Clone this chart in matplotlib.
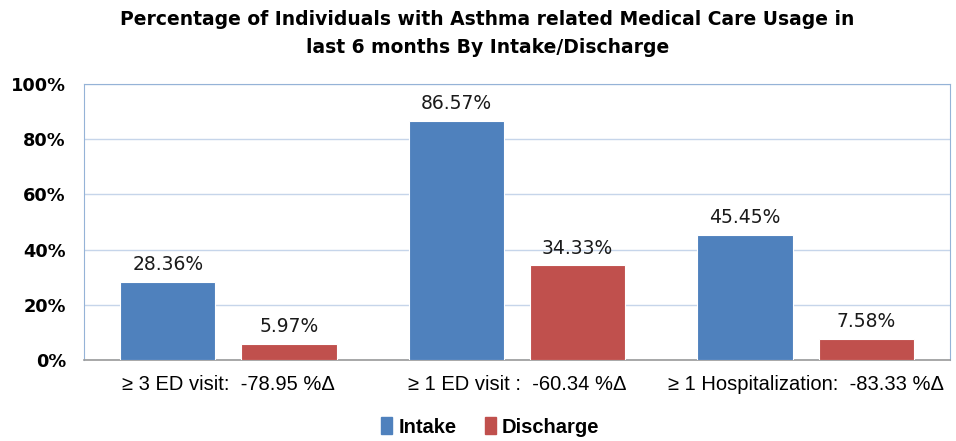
import numpy as np
import matplotlib.pyplot as plt
from matplotlib.patches import Patch
from matplotlib import font_manager

categories = [
    "\u2265 3 ED visit:  -78.95 %\u0394",
    "\u2265 1 ED visit :  -60.34 %\u0394",
    "\u2265 1 Hospitalization:  -83.33 %\u0394",
]
intake = [28.36, 86.57, 45.45]
discharge = [5.97, 34.33, 7.58]
yticks = [0, 20, 40, 60, 80, 100]

BLUE = "#4F81BD"
RED = "#C0504D"

names = {f.name for f in font_manager.fontManager.ttflist}
NARROW = "Liberation Sans Narrow" if "Liberation Sans Narrow" in names else "Liberation Sans"

fig = plt.figure(figsize=(9.56, 4.41), dpi=100)
ax = fig.add_axes([0.0879, 0.1837, 0.9058, 0.6258])

x = np.arange(len(categories))
w = 0.33
off = 0.21
ax.bar(x - off, intake, w, color=BLUE, edgecolor="white", linewidth=0.8, zorder=3)
ax.bar(x + off, discharge, w, color=RED, edgecolor="white", linewidth=0.8, zorder=3)

for xs, vals in ((x - off, intake), (x + off, discharge)):
    for xi, v in zip(xs, vals):
        ax.text(xi, v + 2.8, f"{v:.2f}%", ha="center", va="bottom", fontsize=13.5,
                family="DejaVu Sans", color="#1a1a1a")

ax.set_xlim(-0.5, 2.5)
ax.set_ylim(0, 100)
ax.set_yticks(yticks)
ax.set_yticklabels([f"{t}%" for t in yticks], fontsize=12.8, fontweight="bold",
                   family="DejaVu Sans")
ax.set_xticks(x)
ax.set_xticklabels(categories, fontsize=14.5, family=[NARROW, "DejaVu Sans"])
ax.tick_params(axis="y", length=0, pad=13)
ax.tick_params(axis="x", length=0, pad=11)

ax.grid(axis="y", color="#C6D5EA", linewidth=1, zorder=0)
for s in ["top", "right", "left"]:
    ax.spines[s].set_color("#95B3D7")
ax.spines["bottom"].set_color("#9a9a9a")
ax.spines["bottom"].set_linewidth(1.2)

fig.text(0.51, 0.955, "Percentage of Individuals with Asthma related Medical Care Usage in",
         ha="center", va="center", fontsize=13.5, fontweight="bold", family="DejaVu Sans")
fig.text(0.51, 0.893, "last 6 months By Intake/Discharge",
         ha="center", va="center", fontsize=13.5, fontweight="bold", family="DejaVu Sans")

handles = [Patch(color=BLUE, label="Intake"), Patch(color=RED, label="Discharge")]
fig.legend(handles=handles, loc="center", bbox_to_anchor=(0.513, 0.032), ncol=2,
           frameon=False, handlelength=0.55, handleheight=0.9, handletextpad=0.3,
           columnspacing=1.4, prop={"family": NARROW, "weight": "bold", "size": 14.5})

fig.savefig("out.png", dpi=100)
